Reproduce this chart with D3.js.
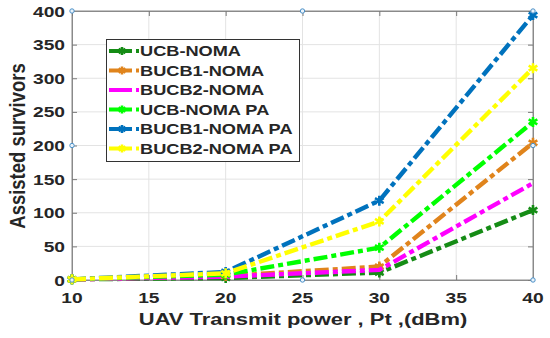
<!DOCTYPE html>
<html>
<head>
<script src="https://cdn.jsdelivr.net/npm/d3@7"></script>
<style>
  body { margin: 0; background: #fff; }
  text { font-family: "Liberation Sans", Arial, sans-serif; font-weight: bold; }
</style>
</head>
<body>
<div id="chart"></div>
<script>
// data
var power = [10, 20, 30, 40];
var seriesNames = ["UCB-NOMA", "BUCB1-NOMA", "BUCB2-NOMA", "UCB-NOMA PA", "BUCB1-NOMA PA", "BUCB2-NOMA PA"];
var ucbNoma    = [1, 3, 11, 104];
var bucb1Noma  = [1, 6, 20, 204];
var bucb2Noma  = [1, 5, 15, 144];
var ucbNomaPa  = [1, 8, 48, 235];
var bucb1NomaPa = [1, 12, 118, 394];
var bucb2NomaPa = [1, 10, 87, 315];
var xTicks = [10, 15, 20, 25, 30, 35, 40];
var yTicks = [0, 50, 100, 150, 200, 250, 300, 350, 400];

var allSeries = [ucbNoma, bucb1Noma, bucb2Noma, ucbNomaPa, bucb1NomaPa, bucb2NomaPa];
var colors = ["#158c15", "#e0841c", "#ff00ff", "#00ff00", "#0072bd", "#ffff00"];
var hasMarker = [true, true, false, true, true, true];

var W = 550, H = 338;
var m = {left: 72, right: 17, top: 11, bottom: 58};

var svg = d3.select("#chart").append("svg")
    .attr("width", W).attr("height", H);

var x = d3.scaleLinear().domain([10, 40]).range([m.left, W - m.right]);
var y = d3.scaleLinear().domain([0, 400]).range([H - m.bottom, m.top]);

// grid
svg.append("g").selectAll("line").data(xTicks).enter().append("line")
    .attr("x1", d => x(d)).attr("x2", d => x(d))
    .attr("y1", y(0)).attr("y2", y(400))
    .attr("stroke", "#e3e3e3").attr("stroke-width", 1);
svg.append("g").selectAll("line").data(yTicks).enter().append("line")
    .attr("x1", x(10)).attr("x2", x(40))
    .attr("y1", d => y(d)).attr("y2", d => y(d))
    .attr("stroke", "#e3e3e3").attr("stroke-width", 1);

// box
svg.append("rect")
    .attr("x", x(10)).attr("y", y(400))
    .attr("width", x(40) - x(10)).attr("height", y(0) - y(400))
    .attr("fill", "none").attr("stroke", "#9a9a9a").attr("stroke-width", 1);

// axes with inward ticks
svg.append("g").attr("transform", "translate(0," + y(0) + ")")
    .call(d3.axisBottom(x).tickValues(xTicks).tickSizeInner(-5).tickSizeOuter(0).tickFormat(""));
svg.append("g").attr("transform", "translate(" + x(10) + ",0)")
    .call(d3.axisLeft(y).tickValues(yTicks).tickSizeInner(-5).tickSizeOuter(0).tickFormat(""));
svg.append("g").attr("transform", "translate(0," + y(400) + ")")
    .call(d3.axisTop(x).tickValues(xTicks).tickSizeInner(-5).tickSizeOuter(0).tickFormat(""));
svg.append("g").attr("transform", "translate(" + x(40) + ",0)")
    .call(d3.axisRight(y).tickValues(yTicks).tickSizeInner(-5).tickSizeOuter(0).tickFormat(""));
svg.selectAll(".domain").attr("stroke", "#8a8a8a");
svg.selectAll(".tick line").attr("stroke", "#7a7a7a");

// the picture is stretched sideways, so its text is too
function stretchedText(g, tx, ty, str, size, sx, anchor, rot) {
  return g.append("g")
    .attr("transform", "translate(" + tx + "," + ty + ") scale(" + sx + ",1)" + (rot ? " rotate(" + rot + ")" : ""))
    .append("text")
    .attr("text-anchor", anchor)
    .attr("font-size", size)
    .attr("fill", "#262626")
    .text(str);
}

var labels = svg.append("g");
xTicks.forEach(function(d) { stretchedText(labels, x(d), y(0) + 23, d, 15, 1.28, "middle"); });
yTicks.forEach(function(d) { stretchedText(labels, x(10) - 7, y(d) + 5.5, d, 15, 1.28, "end"); });
stretchedText(labels, 303, 325, "UAV Transmit power , Pt ,(dBm)", 17, 1.29, "middle");
stretchedText(labels, 25, 146, "Assisted survivors", 18.5, 1.2, "middle", -90);

// lines
var line = d3.line().x((d, i) => x(power[i])).y(d => y(d));
var dash = "14,4,5,4";

function asterisk(g, cx, cy, r, col) {
  var p = d3.path();
  for (var k = 0; k < 3; k++) {
    var a = Math.PI / 2 + k * Math.PI / 3;
    p.moveTo(cx + r * Math.cos(a), cy + r * Math.sin(a));
    p.lineTo(cx - r * Math.cos(a), cy - r * Math.sin(a));
  }
  g.append("path").attr("d", p.toString()).attr("stroke", col).attr("stroke-width", 2.6).attr("fill", "none");
}

allSeries.forEach(function(s, i) {
  var g = svg.append("g");
  g.append("path").datum(s)
    .attr("d", line)
    .attr("fill", "none")
    .attr("stroke", colors[i])
    .attr("stroke-width", 4.4)
    .attr("stroke-dasharray", dash);
  if (hasMarker[i]) {
    s.forEach(function(v, j) { asterisk(g, x(power[j]), y(v), 5, colors[i]); });
  }
});

// selection handles of the axes
var handles = [];
[10, 25, 40].forEach(function(hx) {
  [0, 200, 400].forEach(function(hy) {
    if (!(hx === 25 && hy === 200)) handles.push([hx, hy]);
  });
});
svg.append("g").selectAll("circle").data(handles).enter().append("circle")
    .attr("cx", d => x(d[0])).attr("cy", d => y(d[1])).attr("r", 2.2)
    .attr("fill", "#eaf3fb").attr("stroke", "#4a90c8").attr("stroke-width", 1);

// legend
var lg = svg.append("g");
lg.append("rect").attr("x", 106.5).attr("y", 39.5).attr("width", 193).attr("height", 122)
    .attr("fill", "#fff").attr("stroke", "#333").attr("stroke-width", 1);
seriesNames.forEach(function(name, i) {
  var ly = 51 + i * 19.5;
  lg.append("line").attr("x1", 109).attr("x2", 139).attr("y1", ly).attr("y2", ly)
    .attr("stroke", colors[i]).attr("stroke-width", 4)
    .attr("stroke-dasharray", "23,4,3,4");
  if (hasMarker[i]) asterisk(lg, 122, ly, 4, colors[i]);
  stretchedText(lg, 140, ly + 5, name, 14, 1.3, "start");
});
</script>
</body>
</html>
